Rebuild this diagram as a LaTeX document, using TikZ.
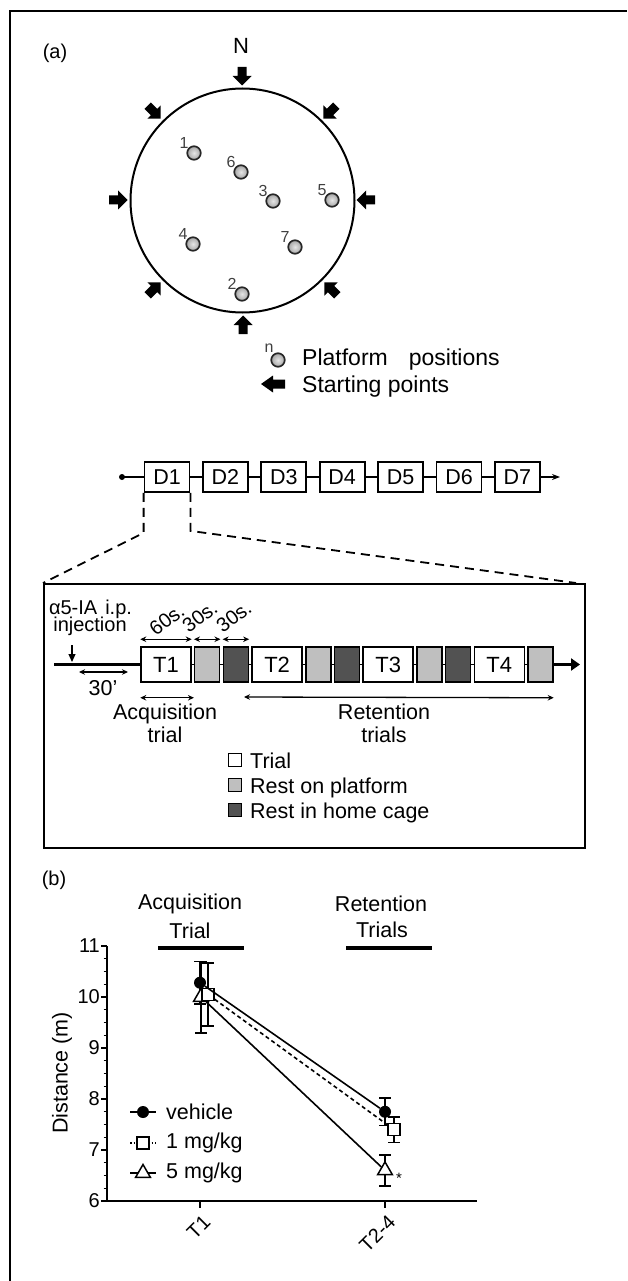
\documentclass[tikz,border=0pt]{standalone}
\usepackage{fontspec}
\setmainfont{Liberation Sans}
\usetikzlibrary{arrows.meta,shapes.geometric}
\newcommand\myfs[1]{\fontsize{#1}{#1}\selectfont}
\newcommand\cy[1]{1201-51*(#1-6)}
\begin{document}
\begin{tikzpicture}[x=1pt,y=-1pt,
  txt/.style={inner sep=0pt, font=\myfs{21.5}},
  small/.style={inner sep=0pt, font=\myfs{16}, text=black!75},
  rot/.style={inner sep=0pt, font=\myfs{20}, rotate=37, anchor=south west},
  daybox/.style={draw, line width=1.8pt, minimum width=45pt, minimum height=30pt, inner sep=0pt, font=\myfs{21.5}},
  trialbox/.style={draw, line width=1.5pt, fill=white, minimum width=50pt, minimum height=35pt, inner sep=0pt, font=\myfs{22}},
  restlight/.style={draw, line width=1.5pt, fill=black!25, minimum width=25pt, minimum height=35pt, inner sep=0pt},
  restdark/.style={draw, line width=1.5pt, fill=black!68, minimum width=25pt, minimum height=35pt, inner sep=0pt},
  dimarrow/.style={line width=1.3pt, {Stealth[length=6pt,width=5.5pt]}-{Stealth[length=6pt,width=5.5pt]}},
  platform/.style={circle, draw=black!85, line width=1.7pt, inner color=gray!20, outer color=gray!70, minimum size=13.5pt, inner sep=0pt},
  blockarrow/.pic={\fill (-9,-4.5) -- (0,-4.5) -- (0,-9.5) -- (9.5,0) -- (0,9.5) -- (0,4.5) -- (-9,4.5) -- cycle;},
  longblockarrow/.pic={\fill (-12,-4.5) -- (0,-4.5) -- (0,-8.5) -- (12,0) -- (0,8.5) -- (0,4.5) -- (-12,4.5) -- cycle;},
  veh/.style={circle, fill=black, minimum size=12pt, inner sep=0pt},
  mgone/.style={rectangle, draw, fill=white, line width=1.5pt, minimum size=12pt, inner sep=0pt},
  mgfive/.style={regular polygon, regular polygon sides=3, draw, fill=white, line width=1.5pt, minimum size=17pt, inner sep=0pt},
  legsq/.style={draw, line width=1.5pt, minimum size=13pt, inner sep=0pt},
  ebar/.style={line width=1.6pt},
]
\useasboundingbox (0,0) rectangle (627,1281);
% frame
\draw[line width=2.6pt] (10,1281) -- (10,11) -- (627,11);

% ---------- (a) maze
\node[font=\myfs{20}, inner sep=0pt] (la) at (55,53) {(a)};
\node[font=\myfs{22}, inner sep=0pt] (north) at (241,46) {N};
\draw[line width=2pt] (242.5,200.5) circle (112pt);
\foreach \ang/\px/\py in {-90/242/76, 90/243/325, 0/118/200, 180/366/200, -45/154/112, -135/330/112, 45/154/289, 135/331/289}
  \pic[rotate=\ang] at (\px,\py) {blockarrow};
\foreach \n/\px/\py in {1/194/153, 6/241/172, 3/273/201, 5/332/200, 4/193/244, 7/295/247, 2/242/294}{
  \node[platform] (p\n) at (\px,\py) {};
  \node[small] (pl\n) at (\px-10,\py-10) {\n};
}
% legend
\node[platform] (lp) at (278,360) {};
\node[small] (lpn) at (269,348) {n};
\node[font=\myfs{23}, inner sep=0pt, anchor=base west] (lpt) at (302,365) {Platform\hspace{21pt}positions};
\pic[rotate=180] at (273,384) {longblockarrow};
\node[font=\myfs{23}, inner sep=0pt, anchor=base west] (lst) at (302,392) {Starting points};

% ---------- days
\coordinate (dstart) at (122,477);
\coordinate (dend) at (560,477);
\fill (dstart) circle (3pt);
\foreach \i in {1,...,7}
  \node[daybox] (d\i) at ({167+58.4*(\i-1)},477) {D\i};
\draw[line width=1.3pt] (dstart) -- (d1) (d1) -- (d2) (d2) -- (d3) (d3) -- (d4) (d4) -- (d5) (d5) -- (d6) (d6) -- (d7);
\draw[line width=1.3pt, -{Stealth[length=8pt,width=6pt]}] (d7) -- (dend);

% ---------- inset
\node[draw, line width=2pt, minimum width=541pt, minimum height=264pt, anchor=north west, inner sep=0pt] (inset) at (43,583) {};
\draw[line width=1.8pt, dash pattern=on 9pt off 6pt] (d1.south west) -- ++(0,40) -- (inset.north west);
\draw[line width=1.8pt, dash pattern=on 9pt off 6pt] (d1.south east) -- ++(0,38) -- ([xshift=-10pt]inset.north east);

\node[trialbox] (t1) at (166,664.5) {T1};
\node[restlight] (l1) at (207.2,664.5) {};
\node[restdark] (k1) at (235.9,664.5) {};
\node[trialbox] (t2) at (277.1,664.5) {T2};
\node[restlight] (l2) at (318.3,664.5) {};
\node[restdark] (k2) at (347,664.5) {};
\node[trialbox] (t3) at (388.2,664.5) {T3};
\node[restlight] (l3) at (429.4,664.5) {};
\node[restdark] (k3) at (458.1,664.5) {};
\node[trialbox] (t4) at (499.3,664.5) {T4};
\node[restlight] (l4) at (540.5,664.5) {};
\draw[line width=1.2pt] (t1) -- (l1) (l1) -- (k1) (k1) -- (t2) (t2) -- (l2) (l2) -- (k2) (k2) -- (t3) (t3) -- (l3) (l3) -- (k3) (k3) -- (t4) (t4) -- (l4);
\coordinate (tstart) at (54,664.5);
\coordinate (tend) at (580,664.5);
\draw[line width=3.5pt] (tstart) -- (t1);
\draw[line width=3.5pt, -{Triangle[length=9pt,width=12pt]}] (l4) -- (tend);

\node[font=\myfs{20}, inner sep=0pt, anchor=base] (inj1) at (90.5,614) {α5-IA\hspace{8pt}i.p.};
\node[font=\myfs{20}, inner sep=0pt, anchor=base] (inj2) at (90,631) {injection};
\coordinate (ia) at (72,645);
\coordinate (ib) at (72,662);
\draw[line width=1.2pt, -{Triangle[length=8pt,width=7pt]}] (ia) -- (ib);
\coordinate (ma) at (79,672);
\coordinate (mb) at (128,672);
\draw[dimarrow] (ma) -- (mb);
\node[txt] (m30) at (103,688) {30'};

\draw[dimarrow] ([yshift=7pt]t1.north west) -- ([yshift=7pt]t1.north east);
\draw[dimarrow] ([yshift=7pt]l1.north west) -- ([yshift=7pt]l1.north east);
\draw[dimarrow] ([yshift=7pt]k1.north west) -- ([yshift=7pt]k1.north east);
\node[rot] (s60) at (156,637) {60s.};
\node[rot] (s30a) at (189,634) {30s.};
\node[rot] (s30b) at (223,634) {30s.};

\draw[dimarrow] ([yshift=-15pt]t1.south west) -- ([yshift=-15pt]l1.south west);
\coordinate (ra) at (244,697);
\draw[dimarrow] (ra) -- ([yshift=-15pt]l4.south east);
\node[txt, anchor=base] (acq) at (165,719) {Acquisition};
\node[txt, anchor=base] (acq2) at (165,742) {trial};
\node[txt, anchor=base] (ret) at (384,719) {Retention};
\node[txt, anchor=base] (ret2) at (384,742) {trials};

\node[legsq, fill=white] (sq1) at (235,760) {};
\node[legsq, fill=black!25] (sq2) at (235,785) {};
\node[legsq, fill=black!68] (sq3) at (235,810) {};
\node[txt, anchor=base west] (lt1) at (250,768) {Trial};
\node[txt, anchor=base west] (lt2) at (250,793) {Rest on platform};
\node[txt, anchor=base west] (lt3) at (250,818) {Rest in home cage};

% ---------- (b) chart
\node[font=\myfs{20}, inner sep=0pt] (lb) at (54,880) {(b)};
\node[txt, anchor=base] (cacq) at (190,909) {Acquisition};
\node[txt, anchor=base] (cacq2) at (190,938) {Trial};
\node[txt, anchor=base] (cret) at (381,911) {Retention};
\node[txt, anchor=base] (cret2) at (382,937) {Trials};
\draw[line width=4pt] (158,948) -- (244,948);
\draw[line width=4pt] (346,948) -- (432,948);

\draw[line width=2pt] (107,{\cy{11}}) -- (107,1201) -- (477,1201);
\foreach \v in {6.25,6.5,...,10.75}
  \draw[line width=1.3pt] (103.5,{\cy{\v}}) -- (107,{\cy{\v}});
\foreach \v in {6,...,11}{
  \draw[line width=1.8pt] (101,{\cy{\v}}) -- (107,{\cy{\v}});
  \node[anchor=east, font=\myfs{20}, inner sep=0pt] (yt\v) at (100,{\cy{\v}}) {\v};
}
\draw[line width=1.8pt] (200,1201) -- (200,1208);
\draw[line width=1.8pt] (385,1201) -- (385,1208);
\node[rotate=45, anchor=east, font=\myfs{20}, inner sep=0pt] (xt1) at (207,1219) {T1};
\node[rotate=45, anchor=east, font=\myfs{20}, inner sep=0pt] (xt2) at (392,1219) {T2-4};
\node[txt, rotate=90] (ylab) at (62,1073) {Distance (m)};

\foreach \x/\m/\e in {200/10.28/0.42, 208/10.05/0.62, 201/10.0/0.7, 385/7.75/0.27, 394/7.40/0.25, 385/6.60/0.3}{
  \draw[ebar] (\x,{\cy{\m+\e}}) -- (\x,{\cy{\m-\e}});
  \draw[ebar] (\x-6,{\cy{\m+\e}}) -- (\x+6,{\cy{\m+\e}});
  \draw[ebar] (\x-6,{\cy{\m-\e}}) -- (\x+6,{\cy{\m-\e}});
}
\node[mgfive] (f1) at (201,{\cy{10.0}}) {};
\node[mgone] (o1) at (208,{\cy{10.05}}) {};
\node[veh] (v1) at (200,{\cy{10.28}}) {};
\node[mgfive] (f2) at (385,{\cy{6.6}}) {};
\node[mgone] (o2) at (394,{\cy{7.4}}) {};
\node[veh] (v2) at (385,{\cy{7.75}}) {};
\draw[line width=1.6pt] (v1) -- (v2);
\draw[line width=1.6pt, dash pattern=on 4pt off 3pt] (o1) -- (o2);
\draw[line width=1.6pt] (f1) -- (f2);
\node[font=\myfs{15}, inner sep=0pt] (star) at (399,1178) {*};

% chart legend
\coordinate (lva) at (130,1112); \coordinate (lvb) at (156,1112);
\draw[line width=1.6pt] (lva) -- (lvb);
\node[veh] (lv) at (143,1112) {};
\node[txt, anchor=west] (lvt) at (166,1112) {vehicle};
\coordinate (loa) at (130,1143); \coordinate (lob) at (156,1143);
\draw[line width=1.6pt, dotted] (loa) -- (lob);
\node[mgone] (lo) at (143,1143) {};
\node[txt, anchor=west] (lot) at (166,1143) {1 mg/kg};
\coordinate (lfa) at (130,1173); \coordinate (lfb) at (156,1173);
\draw[line width=1.6pt] (lfa) -- (lfb);
\node[mgfive] (lf) at (143,1173) {};
\node[txt, anchor=west] (lft) at (166,1173) {5 mg/kg};
\end{tikzpicture}
\end{document}
